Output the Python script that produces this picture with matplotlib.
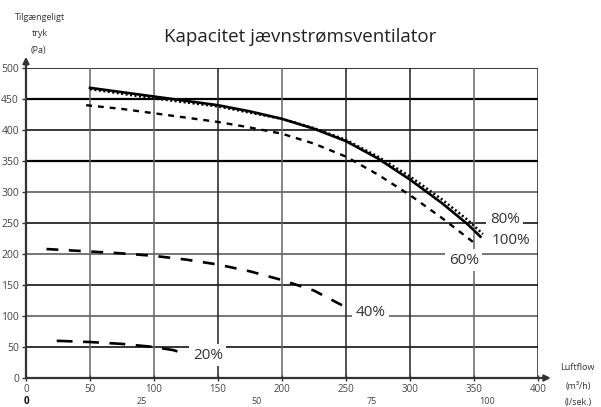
import matplotlib
matplotlib.use("Agg")
import matplotlib.pyplot as plt

plt.rcParams['font.family'] = ['Open Sans', 'DejaVu Sans']

# ---- data ----
title = "Kapacitet jævnstrømsventilator"
x_ticks = [0, 50, 100, 150, 200, 250, 300, 350, 400]
y_ticks = [0, 50, 100, 150, 200, 250, 300, 350, 400, 450, 500]
ls_ticks = [0, 25, 50, 75, 100]  # l/sek.

x100 = [50, 75, 100, 125, 150, 175, 200, 225, 250, 275, 300, 325, 345, 355]
y100 = [468, 461, 454, 447, 440, 430, 418, 402, 382, 354, 320, 282, 248, 228]

x80 = [50, 100, 150, 200, 225, 250, 275, 300, 325, 345, 357]
y80 = [466, 451, 438, 418, 403, 384, 357, 325, 288, 255, 232]

x60 = [47, 75, 100, 125, 150, 175, 200, 225, 250, 275, 300, 325, 352]
y60 = [440, 434, 427, 420, 413, 404, 394, 378, 357, 328, 295, 258, 215]

x40 = [16, 50, 75, 100, 125, 150, 175, 200, 225, 250]
y40 = [208, 204, 201, 197, 191, 183, 172, 158, 141, 114]

x20 = [24, 50, 75, 100, 115, 123]
y20 = [60, 58, 55, 50, 45, 40]

labels = ["100%", "80%", "60%", "40%", "20%"]
label_pos = [(379, 221), (374, 256), (342, 190), (269, 105), (142, 37)]

# ---- figure ----
fig = plt.figure(figsize=(6.01, 4.07), dpi=100)
ax = fig.add_axes([26/601, 1 - 378/407, 512/601, 310/407])
ax.set_xlim(0, 400)
ax.set_ylim(0, 500)

for s in ax.spines.values():
    s.set_visible(False)

black_h = {500, 450, 400, 350, 250, 150, 50}
thick_h = {450, 350}
for yv in y_ticks[1:]:
    if yv in black_h:
        lw = 1.6 if yv in thick_h else 1.1
        ax.axhline(yv, color='black', lw=lw, zorder=1)
    else:
        ax.axhline(yv, color='#777777', lw=1.4, zorder=1)
dark_v = {150, 250, 300, 400}
for xv in x_ticks[1:]:
    if xv in dark_v:
        ax.axvline(xv, color='#222222', lw=1.1, zorder=1)
    else:
        ax.axvline(xv, color='#666666', lw=1.1, zorder=1)

ax.plot(x80, y80, color='black', lw=1.8, ls=(0, (0.8, 1.0)), zorder=3)
ax.plot(x100, y100, color='black', lw=1.9, zorder=4)
ax.plot(x60, y60, color='black', lw=1.7, ls=(0, (2.5, 2.5)), zorder=3)
ax.plot(x40, y40, color='black', lw=1.9, ls=(0, (4.5, 4.0)), zorder=3)
ax.plot(x20, y20, color='black', lw=1.9, ls=(0, (6.0, 4.0)), zorder=3)

for lab, (lx, ly) in zip(labels, label_pos):
    ax.text(lx, ly, lab, fontsize=11, color='#333333', ha='center', va='center',
            bbox=dict(facecolor='white', edgecolor='none', pad=2.5), zorder=5)

# axes with arrows
ax.annotate('', xy=(0, 518), xytext=(0, 0), xycoords='data',
            arrowprops=dict(arrowstyle='-|>', color='#333333', lw=1.6,
                            mutation_scale=9, shrinkA=0, shrinkB=0),
            annotation_clip=False, zorder=6)
ax.annotate('', xy=(410, 0), xytext=(0, 0), xycoords='data',
            arrowprops=dict(arrowstyle='-|>', color='#333333', lw=1.6,
                            mutation_scale=9, shrinkA=0, shrinkB=0),
            annotation_clip=False, zorder=6)

ax.set_xticks(x_ticks)
ax.set_yticks(y_ticks)
ax.set_xticklabels([str(v) for v in x_ticks], fontsize=7, color='#444444')
ax.set_yticklabels([str(v) for v in y_ticks], fontsize=7.5, color='#444444')
ax.tick_params(axis='both', length=3, width=1, color='#333333', pad=2)
ax.tick_params(axis='x', direction='inout', length=4)

# second x row (l/sek.)
for v in ls_ticks:
    ax.text(v * 3.6, -38, str(v), fontsize=6.5 if v else 7,
            color='#444444' if v else '#111111', ha='center', va='center',
            fontweight='normal' if v else 'bold')

fig.text(300/601, 1 - 37/407, title, fontsize=13.5, color='#222222',
         ha='center', va='center')
fig.text(40/601, 1 - 18/407, "Tilgængeligt", fontsize=6.5, color='#333333', ha='center', va='center')
fig.text(40/601, 1 - 33/407, "tryk", fontsize=6.5, color='#333333', ha='center', va='center')
fig.text(38/601, 1 - 50/407, "(Pa)", fontsize=6.5, color='#333333', ha='center', va='center')
fig.text(577/601, 1 - 367/407, "Luftflow", fontsize=6.5, color='#333333', ha='center', va='center')
fig.text(578/601, 1 - 387/407, "(m³/h)", fontsize=6.5, color='#333333', ha='center', va='center')
fig.text(578/601, 1 - 403/407, "(l/sek.)", fontsize=6.5, color='#333333', ha='center', va='center')

fig.savefig("out.png", dpi=100)
